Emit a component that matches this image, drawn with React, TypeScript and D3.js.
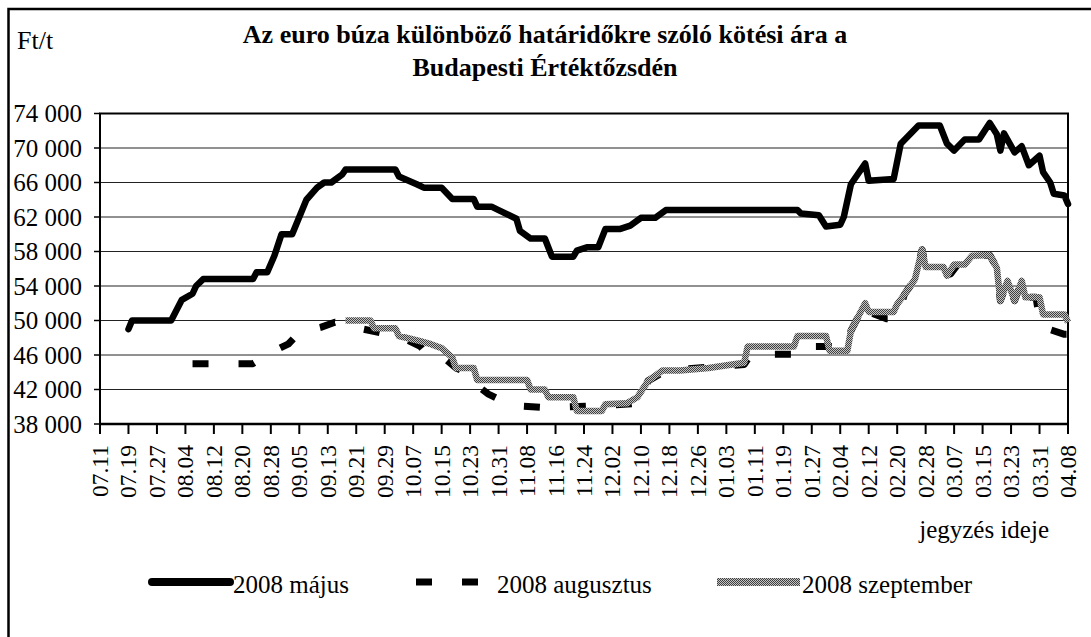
import { line, scaleLinear, scaleTime, timeDay, timeFormat, range, formatLocale } from 'd3';

const width = 1091;
const height = 637;

// dates are "MM.DD", July..Dec = 2007, Jan..Apr = 2008
const parse = (s: string) => {
  const [m, d] = s.split('.').map(Number);
  return new Date(m >= 7 ? 2007 : 2008, m - 1, d);
};

const seriesNames = ['2008 május', '2008 augusztus', '2008 szeptember'];

const mayDates = ['07.19', '07.20', '07.31', '08.03', '08.06', '08.07', '08.09', '08.23', '08.24', '08.27', '08.29', '08.31', '09.03', '09.05', '09.07', '09.10', '09.12', '09.14', '09.17', '09.18', '10.02', '10.03', '10.08', '10.10', '10.15', '10.18', '10.24', '10.25', '10.29', '10.31', '11.05', '11.06', '11.09', '11.13', '11.15', '11.21', '11.22', '11.25', '11.28', '11.30', '12.04', '12.07', '12.10', '12.14', '12.17', '01.23', '01.24', '01.29', '01.31', '02.04', '02.05', '02.07', '02.11', '02.12', '02.19', '02.21', '02.26', '03.03', '03.05', '03.07', '03.10', '03.14', '03.17', '03.19', '03.20', '03.21', '03.24', '03.26', '03.28', '03.31', '04.01', '04.03', '04.04', '04.07', '04.08'];
const mayValues = [49000, 50000, 50000, 52400, 53100, 54000, 54800, 54800, 55600, 55600, 57500, 60000, 60000, 62000, 64000, 65400, 66000, 66000, 66900, 67500, 67500, 66700, 65800, 65400, 65400, 64100, 64100, 63200, 63200, 62800, 61800, 60400, 59500, 59500, 57400, 57400, 58100, 58500, 58500, 60600, 60600, 61000, 61900, 61900, 62800, 62800, 62400, 62200, 60900, 61100, 62000, 65800, 68200, 66200, 66400, 70500, 72600, 72600, 70500, 69700, 71000, 71000, 72900, 71600, 69700, 71700, 69500, 70200, 68000, 69100, 67200, 66000, 64700, 64500, 63500];

const augDates = ['08.06', '08.23', '08.29', '09.02', '09.05', '09.07', '09.11', '09.15', '09.19', '09.23', '10.01', '10.05', '10.09', '10.11', '10.15', '10.19', '10.22', '10.24', '10.28', '11.01', '11.05', '11.13', '11.28', '12.10', '12.12', '12.17', '12.29', '01.08', '01.10', '01.22', '01.23', '02.06', '02.07', '02.11', '02.12', '02.17', '02.20', '02.22', '02.25', '02.27', '02.28', '03.04', '03.06', '03.08', '03.12', '03.17', '03.19', '03.20', '03.22', '03.24', '03.26', '03.27', '03.30', '03.31', '04.01', '04.07', '04.08'];
const augValues = [45000, 45000, 46500, 47300, 48600, 48800, 49200, 49800, 49600, 49000, 48300, 47800, 47000, 46000, 45900, 44500, 44000, 42800, 41500, 40700, 40100, 39900, 40100, 40400, 43000, 44200, 44600, 44900, 46100, 46100, 47000, 47000, 48800, 52000, 51000, 50200, 50200, 53000, 54800, 58200, 56200, 55400, 55400, 56500, 57500, 57600, 56100, 52300, 54600, 52300, 54600, 52700, 52700, 50200, 49200, 48400, 48400];

const sepDates = ['09.18', '09.25', '09.26', '10.02', '10.03', '10.09', '10.12', '10.15', '10.18', '10.19', '10.24', '10.25', '11.08', '11.09', '11.13', '11.14', '11.21', '11.22', '11.29', '11.30', '12.06', '12.09', '12.12', '12.16', '12.21', '12.29', '01.08', '01.09', '01.22', '01.23', '01.31', '02.01', '02.06', '02.07', '02.11', '02.12', '02.19', '02.20', '02.22', '02.25', '02.27', '02.28', '03.04', '03.05', '03.07', '03.10', '03.12', '03.17', '03.19', '03.20', '03.22', '03.24', '03.26', '03.27', '03.31', '04.01', '04.07', '04.08'];
const sepValues = [50000, 50000, 49100, 49100, 48200, 47600, 47250, 46800, 45700, 44500, 44500, 43100, 43100, 42000, 42000, 41100, 41100, 39500, 39500, 40300, 40400, 41100, 43000, 44200, 44200, 44500, 45100, 47000, 47000, 48200, 48200, 46500, 46500, 48800, 52000, 51000, 51000, 51900, 53000, 54800, 58200, 56200, 56200, 55200, 56500, 56500, 57500, 57600, 56100, 52300, 54600, 52300, 54600, 52700, 52700, 50700, 50700, 49800];

const firstDay = '07.11';
const lastDay = '04.08';
const tickStep = 8; // days between x labels
const yTicks = range(38000, 74001, 4000);

const font = '"Liberation Serif", "Times New Roman", serif';
const fmtY = formatLocale({ decimal: ',', thousands: ' ', grouping: [3], currency: ['', ''] }).format(',');
const fmtX = timeFormat('%m.%d');

const App = () => {
  const left = 100, right = 1068, top = 113.5, bottom = 424;

  const xScale = scaleTime()
    .domain([parse(firstDay), parse(lastDay)])
    .range([left, right]);
  const yScale = scaleLinear()
    .domain([38000, 74000])
    .range([bottom, top]);

  const xTicks = timeDay.range(parse(firstDay), timeDay.offset(parse(lastDay), 1), tickStep);

  const toPath = (dates: string[], values: number[]) =>
    line<number>()
      .x((_, i) => xScale(parse(dates[i])))
      .y(v => yScale(v))(values) || '';

  return (
    <svg width={width} height={height} style={{ position: 'absolute', left: 0, top: 0, background: '#fff' }} fontFamily={font}>
      <defs>
        <pattern id="hatch" width={2} height={2} patternUnits="userSpaceOnUse">
          <rect width={2} height={2} fill="#c4c4c4" />
          <rect width={1} height={1} fill="#404040" />
          <rect x={1} y={1} width={1} height={1} fill="#404040" />
        </pattern>
      </defs>

      {/* outer frame, right and bottom sides are off the picture */}
      <path d={`M8.5,${height} V9 H${width}`} fill="none" stroke="#000" strokeWidth={2.5} />

      <text x={17} y={49} fontSize={26}>Ft/t</text>
      <text x={545} y={43} fontSize={26} fontWeight="bold" textAnchor="middle">Az euro búza különböző határidőkre szóló kötési ára a</text>
      <text x={545} y={76} fontSize={26} fontWeight="bold" textAnchor="middle">Budapesti Értéktőzsdén</text>

      {/* gridlines and y axis */}
      {yTicks.map(t => (
        <g key={t}>
          <line x1={left} x2={right} y1={yScale(t)} y2={yScale(t)} stroke="#222" strokeWidth={1} />
          <line x1={left - 6} x2={left} y1={yScale(t)} y2={yScale(t)} stroke="#000" strokeWidth={1.5} />
          <text x={82} y={yScale(t)} fontSize={25} textAnchor="end" dominantBaseline="central">{fmtY(t)}</text>
        </g>
      ))}
      <rect x={left} y={top} width={right - left} height={bottom - top} fill="none" stroke="#000" strokeWidth={2} />

      {/* x axis */}
      <line x1={left} x2={right} y1={bottom} y2={bottom} stroke="#000" strokeWidth={2.5} />
      {xTicks.map(d => (
        <g key={+d}>
          <line x1={xScale(d)} x2={xScale(d)} y1={bottom} y2={bottom + 10} stroke="#000" strokeWidth={2} />
          <text
            transform={`translate(${xScale(d)},${bottom + 21}) rotate(-90)`}
            fontSize={23.5}
            textAnchor="end"
            dominantBaseline="central"
          >{fmtX(d)}</text>
        </g>
      ))}
      <text x={1049} y={538} fontSize={25} textAnchor="end">jegyzés ideje</text>

      {/* series */}
      <path d={toPath(mayDates, mayValues)} fill="none" stroke="#000" strokeWidth={6.5} strokeLinejoin="round" strokeLinecap="round" />
      <path d={toPath(augDates, augValues)} fill="none" stroke="#000" strokeWidth={7} strokeDasharray="16 30" strokeLinejoin="round" />
      <path d={toPath(sepDates, sepValues)} fill="none" stroke="url(#hatch)" strokeWidth={6.5} strokeLinejoin="round" />

      {/* legend */}
      <line x1={152} x2={230} y1={582} y2={582} stroke="#000" strokeWidth={8} strokeLinecap="round" />
      <text x={233} y={593} fontSize={25}>{seriesNames[0]}</text>
      <line x1={416} x2={478} y1={582} y2={582} stroke="#000" strokeWidth={7} strokeDasharray="16 30" />
      <text x={497} y={593} fontSize={25}>{seriesNames[1]}</text>
      <line x1={717} x2={800} y1={582} y2={582} stroke="url(#hatch)" strokeWidth={8} />
      <text x={802} y={593} fontSize={25}>{seriesNames[2]}</text>
    </svg>
  );
};

export default App;
